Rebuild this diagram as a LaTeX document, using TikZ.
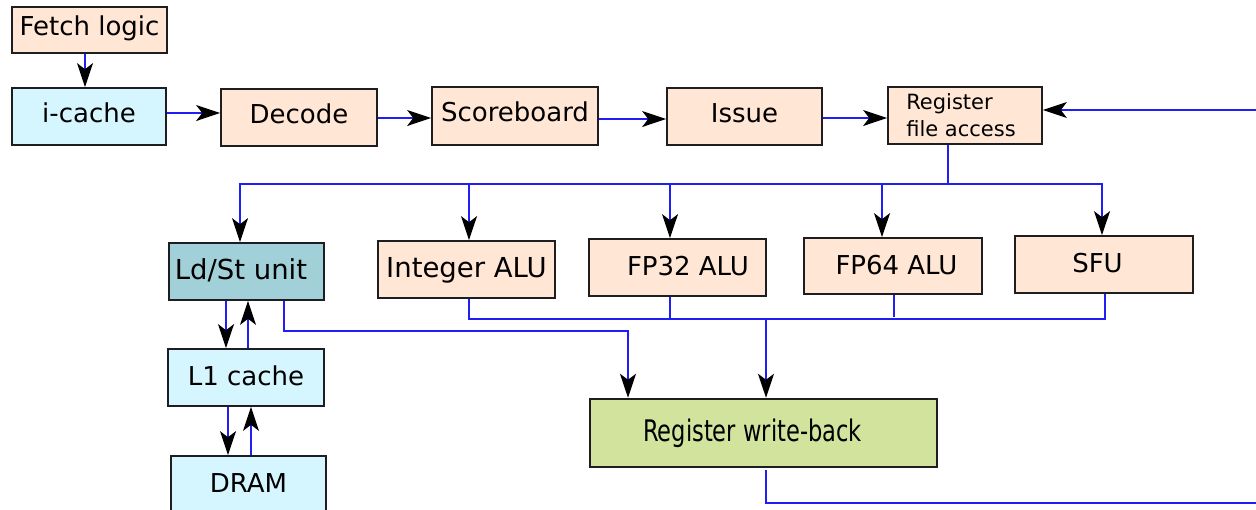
\documentclass[tikz,border=0pt]{standalone}
\usepackage{fontspec}
\usepackage{graphicx}
\setmainfont{DejaVu Sans}
\usetikzlibrary{arrows.meta}

\definecolor{peach}{RGB}{255,230,213}
\definecolor{icecyan}{RGB}{213,246,255}
\definecolor{lsteal}{RGB}{162,208,216}
\definecolor{wbgreen}{RGB}{209,227,157}
\definecolor{wireblue}{RGB}{30,30,245}
\definecolor{edge}{RGB}{30,30,34}

\tikzset{
  box/.style={draw=edge, line width=1.7pt, inner sep=0pt,
    font=\fontsize{26}{31}\selectfont},
  oneline/.style={text height=20pt, text depth=4pt},
  toprow/.style={text height=20pt, text depth=9pt},
  wire/.style={draw=wireblue, line width=1.3pt},
  arr/.style={wire, -{Stealth[length=24pt, width=16pt, inset=6pt, color=black]}}
}

\begin{document}
\begin{tikzpicture}[x=1pt, y=-1pt]
\useasboundingbox (0,0) rectangle (1256,509);

% front end
\node[box, toprow, fill=peach, minimum width=155pt, minimum height=46pt]
  (fetch) at (89.5,30) {Fetch logic};
\node[box, toprow, fill=icecyan, minimum width=154pt, minimum height=57pt]
  (icache) at (89,116.5) {i-cache};
\node[box, toprow, fill=peach, minimum width=156pt, minimum height=57pt]
  (decode) at (299,117.5) {Decode};
\node[box, toprow, fill=peach, minimum width=166pt, minimum height=58pt]
  (score) at (515,116) {Scoreboard};
\node[box, toprow, fill=peach, minimum width=155pt, minimum height=57pt]
  (issue) at (744.5,116.5) {Issue};
\node[box, fill=peach, minimum width=154pt, minimum height=57pt, align=left,
  font=\fontsize{21}{27}\selectfont]
  (rfa) at (965,115.5) {Register\\file access\hspace*{8pt}};

% execution units
\node[box, oneline, fill=lsteal, minimum width=155pt, minimum height=57pt,
  font=\fontsize{27.5}{32}\selectfont]
  (ldst) at (246.5,271.5) {Ld/St unit\hspace*{11pt}};
\node[box, oneline, fill=peach, minimum width=177pt, minimum height=57pt,
  font=\fontsize{27.5}{32}\selectfont]
  (intalu) at (466.5,269.5) {Integer ALU};
\node[box, oneline, fill=peach, minimum width=177pt, minimum height=57pt]
  (fp32) at (677.5,267.5) {\hspace*{21pt}FP32 ALU};
\node[box, oneline, fill=peach, minimum width=178pt, minimum height=56pt]
  (fp64) at (893,266) {\hspace*{7pt}FP64 ALU};
\node[box, oneline, fill=peach, minimum width=178pt, minimum height=57pt]
  (sfu) at (1104,264.5) {SFU\hspace*{13pt}};

% memory hierarchy
\node[box, oneline, fill=icecyan, minimum width=156pt, minimum height=57pt]
  (l1) at (246,377.5) {L1 cache};
\node[box, oneline, fill=icecyan, minimum width=155pt, minimum height=57pt]
  (dram) at (248.5,484.5) {DRAM};

% write-back
\node[box, line width=2.5pt, fill=wbgreen, minimum width=347pt, minimum height=68pt,
  text height=23pt, text depth=7pt, font=\fontsize{29.7}{34}\selectfont]
  (rwb) at (763.5,433) {\scalebox{0.76}[1]{Register write-back}\hspace*{22pt}};

% helper points
\coordinate (retin) at (1256,110);
\coordinate (bus) at (948,184);
\coordinate (collect) at (766,319);
\coordinate (ldturn) at (628,331);
\coordinate (wbout) at (766,470);
\coordinate (wbedge) at (1256,503);

% pipeline front end
\draw[arr] (85,0 |- fetch.south) -- (85,0 |- icache.north);
\draw[arr] (icache.east |- 0,113) -- (decode.west |- 0,113);
\draw[arr] (decode.east |- 0,118) -- (score.west |- 0,118);
\draw[arr] (score.east |- 0,119) -- (issue.west |- 0,119);
\draw[arr] (issue.east |- 0,118) -- (rfa.west |- 0,118);
\draw[arr] (retin) -- (rfa.east |- retin);

% operand distribution
\draw[wire] (948,0 |- rfa.south) -- (bus);
\draw[arr] (bus) -| (240,0 |- ldst.north);
\draw[arr] (bus) -| (469,0 |- intalu.north);
\draw[arr] (bus) -| (670,0 |- fp32.north);
\draw[arr] (bus) -| (882,0 |- fp64.north);
\draw[arr] (bus) -| (1102,0 |- sfu.north);

% result collection
\draw[wire] (469,0 |- intalu.south) |- (1105,319) -- (1105,0 |- sfu.south);
\draw[wire] (670,0 |- fp32.south) -- (670,319);
\draw[wire] (894,0 |- fp64.south) -- (894,317);
\draw[arr] (collect) -- (766,0 |- rwb.north);
\draw[arr] (284,0 |- ldst.south) |- (ldturn) -- (628,0 |- rwb.north);

% memory traffic
\draw[arr] (226,0 |- ldst.south) -- (226,0 |- l1.north);
\draw[arr] (248,0 |- l1.north) -- (248,0 |- ldst.south);
\draw[arr] (228,0 |- l1.south) -- (228,0 |- dram.north);
\draw[arr] (251,0 |- dram.north) -- (251,0 |- l1.south);

% write-back loop
\draw[wire] (wbout) |- (wbedge);
\end{tikzpicture}
\end{document}
